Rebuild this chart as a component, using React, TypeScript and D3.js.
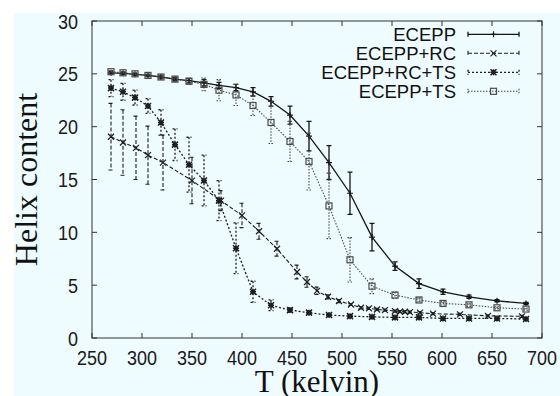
import React from 'react';
import * as d3 from 'd3';

// temperature grid of the ECEPP, ECEPP+TS and ECEPP+RC+TS runs
const tempsA = [269, 281, 293, 306, 319, 333, 347, 362, 377, 394, 411, 429, 448, 467, 487, 508, 530, 553, 577, 601, 627, 655, 684];
// temperature grid of the ECEPP+RC run
const tempsB = [269, 281, 294, 306, 321, 350, 379, 400, 417, 435, 455, 465, 475, 486, 497, 509, 519, 527, 535, 543, 553, 558, 563, 568, 578, 591, 618, 646, 680];

const ecepp = [25.1, 25.05, 24.95, 24.85, 24.7, 24.5, 24.35, 24.15, 23.9, 23.7, 23.3, 22.4, 21.1, 19.1, 16.6, 13.7, 9.55, 6.8, 5.15, 4.37, 3.9, 3.52, 3.27];
const eceppErr = [0.1, 0.1, 0.1, 0.1, 0.15, 0.15, 0.2, 0.3, 0.3, 0.3, 0.4, 0.45, 0.85, 1.4, 1.6, 2.0, 1.3, 0.4, 0.45, 0.25, 0.15, 0.1, 0.1];

const eceppRc = [19.05, 18.5, 18.0, 17.3, 16.6, 14.9, 13.0, 11.6, 10.1, 8.45, 6.25, 5.3, 4.46, 3.9, 3.5, 3.17, 2.86, 2.8, 2.7, 2.64, 2.55, 2.5, 2.48, 2.45, 2.4, 2.3, 2.23, 2.1, 2.05];
const eceppRcErr = [3.15, 3.1, 3.0, 2.75, 2.6, 2.2, 0.95, 1.15, 0.75, 0.7, 0.65, 0.5, 0.35, 0.2, 0.15, 0.1, 0.1, 0.1, 0.1, 0.1, 0.1, 0.1, 0.1, 0.1, 0.1, 0.1, 0.1, 0.1, 0.1];

const eceppRcTs = [23.65, 23.3, 22.75, 21.95, 20.4, 18.3, 16.4, 14.9, 13.0, 8.5, 4.37, 3.1, 2.64, 2.4, 2.17, 2.07, 2.0, 1.95, 1.95, 1.85, 1.85, 1.85, 1.8];
const eceppRcTsErr = [0.8, 0.8, 0.7, 0.7, 1.2, 1.5, 2.6, 2.4, 1.9, 2.4, 1.0, 0.5, 0.2, 0.15, 0.1, 0.1, 0.1, 0.1, 0.1, 0.1, 0.1, 0.1, 0.1];

const eceppTs = [25.2, 25.1, 25.0, 24.85, 24.7, 24.5, 24.3, 24.0, 23.45, 23.0, 22.0, 20.4, 18.6, 16.7, 12.5, 7.4, 4.9, 4.06, 3.6, 3.27, 3.14, 2.86, 2.74];
const eceppTsErr = [0.1, 0.1, 0.1, 0.1, 0.15, 0.2, 0.3, 0.6, 1.0, 1.0, 0.95, 2.0, 1.9, 2.7, 3.1, 2.1, 0.7, 0.3, 0.2, 0.15, 0.15, 0.1, 0.1];

const seriesNames = ['ECEPP', 'ECEPP+RC', 'ECEPP+RC+TS', 'ECEPP+TS'];
const xTicks = [250, 300, 350, 400, 450, 500, 550, 600, 650, 700];
const yTicks = [0, 5, 10, 15, 20, 25, 30];

const series = [
  { name: seriesNames[0], temps: tempsA, values: ecepp, errs: eceppErr, color: '#151515', dash: null, width: 1.3, marker: 'plus' },
  { name: seriesNames[1], temps: tempsB, values: eceppRc, errs: eceppRcErr, color: '#1e1e1e', dash: '4,2', width: 1.1, marker: 'cross' },
  { name: seriesNames[2], temps: tempsA, values: eceppRcTs, errs: eceppRcTsErr, color: '#1e1e1e', dash: '2,2', width: 1.3, marker: 'star' },
  { name: seriesNames[3], temps: tempsA, values: eceppTs, errs: eceppTsErr, color: '#4a4a4a', dash: '1.5,1.5', width: 1.1, marker: 'box' },
];

function Marker({ type, cx, cy, color }: { type: string; cx: number; cy: number; color: string }) {
  const s = 3;
  const common = { stroke: color, strokeWidth: 1.2, fill: 'none' };
  if (type === 'plus') {
    return <path d={`M${cx - s},${cy}H${cx + s}M${cx},${cy - s}V${cy + s}`} {...common} />;
  }
  if (type === 'cross') {
    return <path d={`M${cx - s},${cy - s}L${cx + s},${cy + s}M${cx - s},${cy + s}L${cx + s},${cy - s}`} {...common} />;
  }
  if (type === 'star') {
    return (
      <path
        d={`M${cx - s},${cy - s}L${cx + s},${cy + s}M${cx - s},${cy + s}L${cx + s},${cy - s}M${cx - s},${cy}H${cx + s}M${cx},${cy - s}V${cy + s}`}
        {...common}
        strokeWidth={1.5}
      />
    );
  }
  return <rect x={cx - s} y={cy - s} width={2 * s} height={2 * s} {...common} />;
}

export default function App() {
  const x = d3.scaleLinear().domain([250, 700]).range([92, 542]);
  const y = d3.scaleLinear().domain([0, 30]).range([338, 21]);
  const [x0, x1] = x.range();
  const [y0, y1] = y.range();
  const tick = 5;
  const cap = 2.5;

  const line = d3
    .line<[number, number]>()
    .x(d => x(d[0]))
    .y(d => y(d[1]));

  const legendX = 456;
  const legendY0 = 34.3;
  const legendStep = 19;

  return (
    <svg width={560} height={396} style={{ position: 'absolute', left: 0, top: 0 }}>
      <rect x={0} y={0} width={560} height={396} fill="#ffffff" />
      <rect x={14} y={13} width={546} height={383} fill="#effcff" />

      {/* ticks, mirrored on all four sides */}
      <g stroke="#333" strokeWidth={1}>
        {xTicks.map(t => (
          <g key={'xt' + t}>
            <line x1={x(t)} x2={x(t)} y1={y0} y2={y0 - tick} />
            <line x1={x(t)} x2={x(t)} y1={y1} y2={y1 + tick} />
          </g>
        ))}
        {yTicks.map(t => (
          <g key={'yt' + t}>
            <line x1={x0} x2={x0 + tick} y1={y(t)} y2={y(t)} />
            <line x1={x1} x2={x1 - tick} y1={y(t)} y2={y(t)} />
          </g>
        ))}
      </g>

      {/* tick labels, slightly stretched vertically like the original */}
      <g fontFamily="'Liberation Sans', Arial, sans-serif" fontSize={18} fill="#1a1a1a">
        {xTicks.map(t => (
          <text key={'xl' + t} transform={`translate(${x(t)},365) scale(1,1.12)`} textAnchor="middle">
            {t}
          </text>
        ))}
        {yTicks.map(t => (
          <text key={'yl' + t} transform={`translate(78,${y(t) + 7.5}) scale(1,1.12)`} textAnchor="end">
            {t}
          </text>
        ))}
      </g>

      {/* axis titles */}
      <text
        x={(x0 + x1) / 2}
        y={392}
        textAnchor="middle"
        fontFamily="'Liberation Serif', 'Times New Roman', serif"
        fontSize={31}
        fill="#111"
      >
        T (kelvin)
      </text>
      <text
        transform={`translate(37,${(y0 + y1) / 2}) rotate(-90)`}
        textAnchor="middle"
        fontFamily="'Liberation Serif', 'Times New Roman', serif"
        fontSize={32}
        fill="#111"
      >
        Helix content
      </text>

      {/* series */}
      {series.map(s => {
        const pts = s.temps.map((t, i) => [t, s.values[i]] as [number, number]);
        return (
          <g key={s.name}>
            <path d={line(pts) || ''} fill="none" stroke={s.color} strokeWidth={s.width} strokeDasharray={s.dash || undefined} />
            {pts.map((p, i) => {
              const cx = x(p[0]);
              const top = y(p[1] + s.errs[i]);
              const bot = y(p[1] - s.errs[i]);
              return (
                <path
                  key={i}
                  d={`M${cx},${top}V${bot}M${cx - cap},${top}H${cx + cap}M${cx - cap},${bot}H${cx + cap}`}
                  fill="none"
                  stroke={s.color}
                  strokeWidth={s.width}
                  strokeDasharray={s.dash || undefined}
                />
              );
            })}
            {pts.map((p, i) => (
              <Marker key={'m' + i} type={s.marker} cx={x(p[0])} cy={y(p[1])} color={s.color} />
            ))}
          </g>
        );
      })}

      {/* legend */}
      <g fontFamily="'Liberation Sans', Arial, sans-serif" fontSize={18.5} fill="#111">
        {series.map((s, i) => {
          const ly = legendY0 + i * legendStep;
          return (
            <g key={'lg' + s.name}>
              <text x={legendX} y={ly + 6.5} textAnchor="end">
                {s.name}
              </text>
              <path
                d={`M468,${ly}H519M468,${ly - 2.5}V${ly + 2.5}M519,${ly - 2.5}V${ly + 2.5}`}
                fill="none"
                stroke={s.color}
                strokeWidth={s.width}
                strokeDasharray={s.dash || undefined}
              />
              <Marker type={s.marker} cx={493.5} cy={ly} color={s.color} />
            </g>
          );
        })}
      </g>

      {/* border */}
      <rect x={x0} y={y1} width={x1 - x0} height={y0 - y1} fill="none" stroke="#333" strokeWidth={1} />
    </svg>
  );
}
